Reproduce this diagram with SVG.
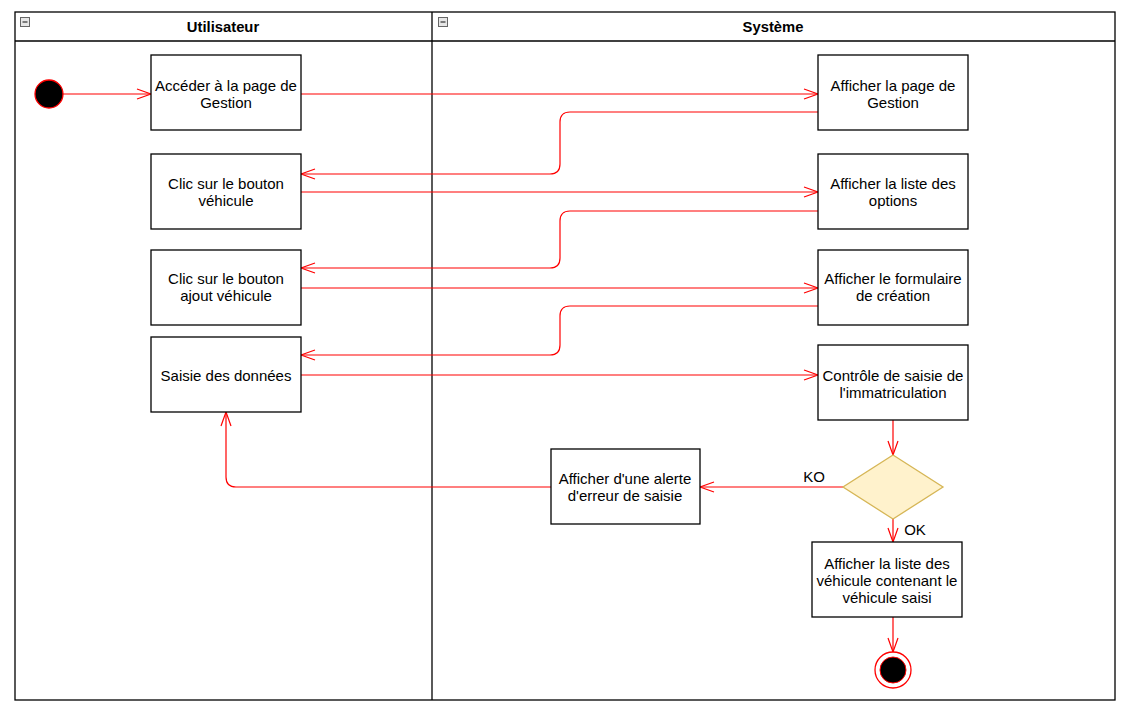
<svg xmlns="http://www.w3.org/2000/svg" width="1128" height="712" viewBox="0 0 1128 712">
<defs>
<style>
.pool{fill:none;stroke:#000;stroke-width:1.3}
.box{fill:#fff;stroke:#000;stroke-width:1.3}
.t{font-family:"Liberation Sans",Arial,sans-serif;font-size:15px;fill:#000;text-anchor:middle}
.h{font-family:"Liberation Sans",Arial,sans-serif;font-size:14.8px;font-weight:bold;fill:#000;text-anchor:middle}
.e{fill:none;stroke:#ff0000;stroke-width:1.2}
.icon{fill:#e6e6e6;stroke:#666;stroke-width:1}
</style>
<marker id="arr" viewBox="0 0 16 12" refX="15" refY="6" markerWidth="16" markerHeight="12" markerUnits="userSpaceOnUse" orient="auto">
<path d="M1,1 L15,6 L1,11" fill="none" stroke="#ff0000" stroke-width="1.2"/>
</marker>
</defs>
<rect width="1128" height="712" fill="#fff"/>
<g id="pool">
<rect class="pool" x="15" y="12" width="1100" height="688"/>
<line class="pool" x1="15" y1="41" x2="1115" y2="41"/>
<line class="pool" x1="432" y1="12" x2="432" y2="700"/>
<rect class="icon" x="20.5" y="17.5" width="9" height="9"/>
<line x1="22.5" y1="22" x2="27.5" y2="22" stroke="#333" stroke-width="1.2"/>
<rect class="icon" x="438.5" y="17.5" width="9" height="9"/>
<line x1="440.5" y1="22" x2="445.5" y2="22" stroke="#333" stroke-width="1.2"/>
<text class="h" x="223" y="32">Utilisateur</text>
<text class="h" x="773" y="32">Système</text>
</g>
<g id="connectors">
<path class="e" d="M63,94 L151,94" marker-end="url(#arr)"/>
<path class="e" d="M301,94 L818,94" marker-end="url(#arr)"/>
<path class="e" d="M818,112 L570,112 Q560,112 560,122 L560,164 Q560,174 550,174 L301,174" marker-end="url(#arr)"/>
<path class="e" d="M301,192 L818,192" marker-end="url(#arr)"/>
<path class="e" d="M818,211 L570,211 Q560,211 560,221 L560,258 Q560,268 550,268 L301,268" marker-end="url(#arr)"/>
<path class="e" d="M301,288 L818,288" marker-end="url(#arr)"/>
<path class="e" d="M818,306 L570,306 Q560,306 560,316 L560,345 Q560,355 550,355 L301,355" marker-end="url(#arr)"/>
<path class="e" d="M301,375 L818,375" marker-end="url(#arr)"/>
<path class="e" d="M893,420 L893,455" marker-end="url(#arr)"/>
<path class="e" d="M843,487 L700,487" marker-end="url(#arr)"/>
<path class="e" d="M551,487 L236,487 Q226,487 226,477 L226,412" marker-end="url(#arr)"/>
<path class="e" d="M893,519 L893,542" marker-end="url(#arr)"/>
<path class="e" d="M893,617 L893,652" marker-end="url(#arr)"/>
<text class="t" x="814" y="482">KO</text>
<text class="t" x="915" y="535">OK</text>
</g>
<g id="start"><circle cx="49" cy="94" r="14" fill="#000" stroke="#ff0000" stroke-width="1.3"/></g>
<g id="n1"><rect class="box" x="151" y="55" width="150" height="75"/><text class="t" x="226" y="91">Accéder à la page de</text><text class="t" x="226" y="108">Gestion</text></g>
<g id="n2"><rect class="box" x="151" y="154" width="150" height="75"/><text class="t" x="226" y="189">Clic sur le bouton</text><text class="t" x="226" y="206">véhicule</text></g>
<g id="n3"><rect class="box" x="151" y="250" width="150" height="75"/><text class="t" x="226" y="284">Clic sur le bouton</text><text class="t" x="226" y="301">ajout véhicule</text></g>
<g id="n4"><rect class="box" x="151" y="337" width="150" height="75"/><text class="t" x="226" y="381">Saisie des données</text></g>
<g id="s1"><rect class="box" x="818" y="55" width="150" height="75"/><text class="t" x="893" y="91">Afficher la page de</text><text class="t" x="893" y="108">Gestion</text></g>
<g id="s2"><rect class="box" x="818" y="154" width="150" height="75"/><text class="t" x="893" y="189">Afficher la liste des</text><text class="t" x="893" y="206">options</text></g>
<g id="s3"><rect class="box" x="818" y="250" width="150" height="75"/><text class="t" x="893" y="284">Afficher le formulaire</text><text class="t" x="893" y="301">de création</text></g>
<g id="s4"><rect class="box" x="818" y="345" width="150" height="75"/><text class="t" x="893" y="381">Contrôle de saisie de</text><text class="t" x="893" y="398">l'immatriculation</text></g>
<g id="decision"><polygon points="893,455 943,487 893,519 843,487" fill="#fff2cc" stroke="#d6b656" stroke-width="1.3"/></g>
<g id="alert"><rect class="box" x="551" y="449" width="149" height="75"/><text class="t" x="625" y="484">Afficher d'une alerte</text><text class="t" x="625" y="501">d'erreur de saisie</text></g>
<g id="s5"><rect class="box" x="812" y="542" width="150" height="75"/><text class="t" x="887" y="569">Afficher la liste des</text><text class="t" x="887" y="586">véhicule contenant le</text><text class="t" x="887" y="603">véhicule saisi</text></g>
<g id="end"><circle cx="893" cy="670" r="18" fill="#fff" stroke="#ff0000" stroke-width="1.3"/><circle cx="893" cy="670" r="13" fill="#000" stroke="#ff0000" stroke-width="1"/></g>
</svg>
